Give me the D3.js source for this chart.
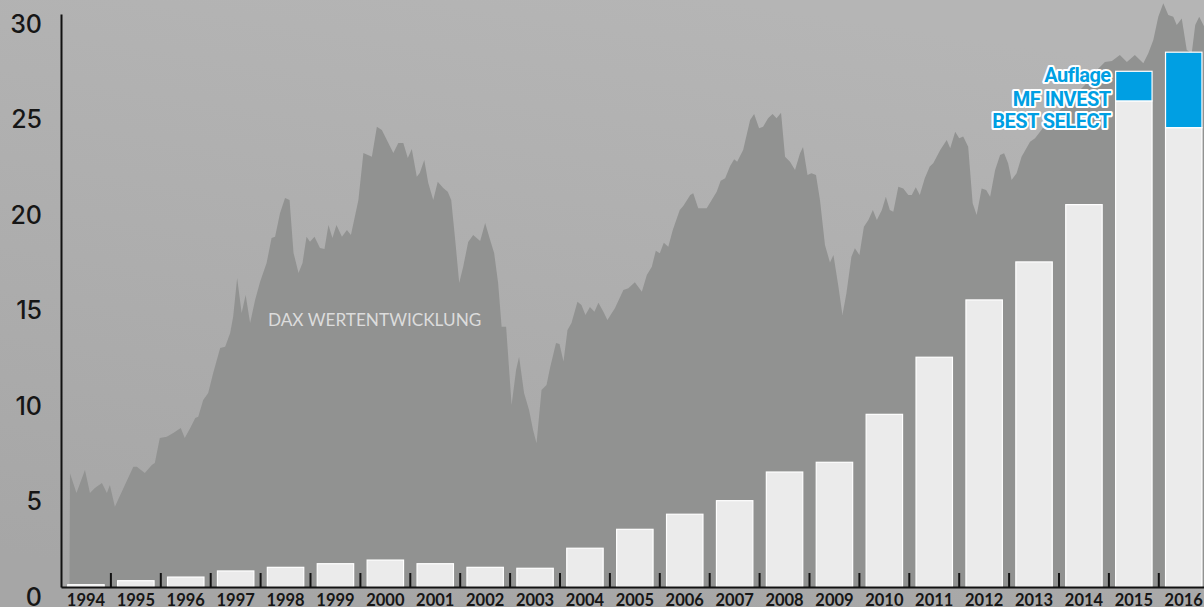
<!DOCTYPE html>
<html><head><meta charset="utf-8">
<script src="https://cdn.jsdelivr.net/npm/d3@7"></script>
<style>html,body{margin:0;padding:0;overflow:hidden;background:#adadad}</style>
</head><body><svg id="c" width="1204" height="607"></svg>
<script>
// ---------- data ----------
const years = [1994,1995,1996,1997,1998,1999,2000,2001,2002,2003,2004,2005,2006,2007,2008,2009,2010,2011,2012,2013,2014,2015,2016];
const baseValues = [0.12,0.33,0.52,0.84,1.03,1.22,1.41,1.22,1.03,0.98,2.03,3.02,3.81,4.52,6.02,6.53,9.04,12.03,15.03,17.02,20.02,25.45,24.05];
const mfValues   = [0,0,0,0,0,0,0,0,0,0,0,0,0,0,0,0,0,0,0,0,0,1.55,3.95];
const yTicks = [0,5,10,15,20,25,30];
const legendLines = ["Auflage","MF INVEST","BEST SELECT"];
const daxLabel = "DAX WERTENTWICKLUNG";
const daxDates = [1994.17,1994.18,1994.31,1994.48,1994.58,1994.68,1994.82,1994.92,1994.98,1995.08,1995.28,1995.45,1995.52,1995.68,1995.82,1995.88,1995.98,
1996.12,1996.25,1996.40,1996.48,1996.59,1996.69,1996.75,1996.85,1996.95,1997.05,1997.19,1997.29,1997.39,1997.45,1997.53,1997.62,1997.70,1997.79,1997.89,1997.99,
1998.12,1998.22,1998.29,1998.39,1998.49,1998.58,1998.66,1998.76,1998.84,1998.92,1998.99,1999.08,1999.19,1999.28,1999.36,1999.44,1999.52,1999.63,1999.73,1999.81,1999.96,
2000.06,2000.23,2000.33,2000.43,2000.56,2000.66,2000.76,2000.86,2000.95,2001.03,2001.13,2001.19,2001.28,2001.36,2001.46,2001.55,2001.66,2001.75,2001.82,2001.90,2001.98,
2002.06,2002.16,2002.26,2002.40,2002.50,2002.60,2002.68,2002.76,2002.83,2002.92,2003.03,2003.12,2003.18,2003.28,2003.38,2003.46,2003.53,2003.63,2003.73,2003.80,2003.92,2003.99,
2004.07,2004.15,2004.23,2004.35,2004.43,2004.51,2004.60,2004.69,2004.77,2004.87,2004.95,2005.10,2005.27,2005.37,2005.50,2005.64,2005.74,2005.84,2005.92,
2006.00,2006.08,2006.17,2006.26,2006.40,2006.47,2006.61,2006.67,2006.77,2006.94,2007.14,2007.22,2007.31,2007.41,2007.49,2007.55,2007.67,2007.81,2007.89,2007.99,
2008.07,2008.17,2008.26,2008.34,2008.43,2008.51,2008.61,2008.71,2008.81,2008.87,2008.96,2009.04,2009.13,2009.21,2009.31,2009.41,2009.48,2009.58,2009.66,2009.74,2009.84,2009.91,
2010.00,2010.09,2010.18,2010.27,2010.35,2010.45,2010.53,2010.61,2010.68,2010.78,2010.88,2010.98,2011.05,2011.13,2011.21,2011.31,2011.41,2011.48,2011.62,2011.75,2011.82,2011.92,
2012.00,2012.08,2012.18,2012.27,2012.35,2012.45,2012.54,2012.62,2012.72,2012.82,2012.90,2012.98,2013.05,2013.15,2013.25,2013.42,2013.52,2013.62,2013.75,2013.92,
2014.12,2014.32,2014.52,2014.72,2014.92,2015.06,2015.22,2015.36,2015.52,2015.69,2015.79,2015.89,2015.99,2016.09,2016.19,2016.29,2016.36,2016.46,2016.56,2016.66,2016.73,2016.81,2016.91];
const daxValues = [0,5.95,4.92,6.13,4.92,5.18,5.45,4.92,5.34,4.20,5.34,6.30,6.30,5.97,6.39,6.49,7.80,
7.87,8.06,8.32,7.80,8.32,8.85,8.92,9.79,10.16,11.20,12.51,12.58,13.30,14.15,16.18,14.35,15.29,13.82,15.03,15.98,
16.96,18.27,18.34,19.58,20.37,20.26,17.49,16.44,16.96,18.34,18.08,18.34,17.75,17.70,18.95,18.27,18.95,18.34,18.69,18.43,20.26,
22.72,22.53,24.10,23.93,23.25,22.72,23.25,23.25,22.46,22.93,21.48,21.68,22.36,21.15,20.26,21.22,20.89,20.70,20.26,18.17,15.92,
16.77,18.06,18.43,18.12,19.06,18.17,17.49,15.92,13.63,13.63,9.53,11.36,12.06,10.16,9.27,8.22,7.52,10.31,10.58,11.47,12.77,12.72,
11.80,13.46,13.82,14.94,14.76,14.24,14.66,14.41,14.88,14.41,13.98,14.59,15.55,15.64,15.95,15.46,16.34,16.77,17.61,
17.47,18.03,17.82,18.69,19.74,19.95,20.52,20.61,19.83,19.83,20.70,21.27,21.40,22.04,22.39,22.27,22.88,24.45,24.76,24.02,
24.10,24.54,24.76,24.54,24.83,22.53,22.27,21.83,22.71,23.04,21.57,21.66,21.57,20.26,17.91,16.99,17.38,15.72,14.24,15.38,17.29,17.73,
17.38,18.86,19.21,19.74,19.21,19.74,20.43,19.74,19.65,20.96,20.87,20.52,20.52,20.93,20.52,21.40,22.01,22.18,22.88,23.40,22.97,23.84,
23.49,23.58,23.05,20.09,19.48,20.87,20.79,20.43,21.83,22.62,22.71,22.18,21.31,21.66,22.53,23.31,23.49,23.84,24.28,24.71,
25.24,25.76,26.28,26.96,27.49,27.54,27.85,27.49,27.85,27.42,27.94,28.64,29.86,30.56,29.95,29.86,29.42,29.77,28.12,27.94,29.42,29.86,29.34];

(function(){
const W = 1204, H = 607;
const svg = d3.select("#c");
const mLeft = 61, yBase = 587, yTop = 14;
const step = 49.9;
const mRight = mLeft + years.length * step;

const x = d3.scaleBand().domain(years).range([mLeft, mRight]).paddingInner(0.27).paddingOuter(0.135);
const t = d3.scaleLinear().domain([years[0], years[years.length-1] + 1]).range([mLeft, mRight]);
const y = d3.scaleLinear().domain([0, 30]).range([yBase, yTop]);

const defs = svg.append("defs");
const g = defs.append("linearGradient").attr("id","bg").attr("x1","0.6").attr("y1","0").attr("x2","0.3").attr("y2","1");
g.append("stop").attr("offset","0").attr("stop-color","#b5b5b5");
g.append("stop").attr("offset","1").attr("stop-color","#a6a6a6");
svg.append("rect").attr("width",W).attr("height",H).attr("fill","url(#bg)");

// DAX area
const n = Math.min(daxDates.length, daxValues.length);
const dax = daxDates.slice(0,n).map((d,i)=>({d, v: daxValues[i]}));
svg.append("path").datum(dax)
  .attr("fill","#919291")
  .attr("d", d3.area().x(p=>t(p.d)).y0(y(0)).y1(p=>y(p.v)));

svg.append("text").text(daxLabel)
  .attr("x", 268).attr("y", 326)
  .attr("font-family","Lato, 'Open Sans', sans-serif").attr("font-size", 17.2)
  .attr("fill","#dcdcdc");

// Bars
const bars = years.map((yr,i)=>({yr, base: baseValues[i], mf: mfValues[i]}));
svg.append("g").selectAll("rect").data(bars).join("rect")
  .attr("x", d=>x(d.yr)).attr("width", x.bandwidth())
  .attr("y", d=>y(d.base)).attr("height", d=>y(0)-y(d.base))
  .attr("fill","#ebebeb").attr("stroke","#ffffff").attr("stroke-width",1.2);
svg.append("g").selectAll("rect").data(bars.filter(d=>d.mf>0)).join("rect")
  .attr("x", d=>x(d.yr)).attr("width", x.bandwidth())
  .attr("y", d=>y(d.base + d.mf)).attr("height", d=>y(d.base)-y(d.base+d.mf))
  .attr("fill","#009fe3").attr("stroke","#ffffff").attr("stroke-width",1.2);

// Y axis
const ya = svg.append("g").attr("transform",`translate(${mLeft},0)`)
  .call(d3.axisLeft(y).tickValues(yTicks).tickSize(0).tickSizeOuter(0).tickPadding(19));
ya.select(".domain").attr("stroke","#111").attr("stroke-width",2);
ya.selectAll("text").attr("y",10)
  .attr("font-family","Inter, Lato, sans-serif").attr("font-size",25).attr("font-weight",500).attr("fill","#161616");

// X axis
const xa = svg.append("g").attr("transform",`translate(0,${yBase})`)
  .call(d3.axisBottom(x).tickSize(0).tickSizeOuter(0).tickPadding(7.6));
xa.select(".domain").attr("stroke","#111").attr("stroke-width",2.2);
xa.selectAll("text")
  .attr("font-family","Lato, sans-serif").attr("font-size",16.5).attr("font-weight",700).attr("fill","#161616");

// boundary ticks between bars
const gap = (x.step() - x.bandwidth())/2;
svg.append("g").selectAll("line").data(years.slice(1)).join("line")
  .attr("x1", d=>x(d)-gap).attr("x2", d=>x(d)-gap)
  .attr("y1", yBase-14).attr("y2", yBase)
  .attr("stroke","#111").attr("stroke-width",2);

// Legend text
const lx = x(years[21]) - 5;
svg.append("g").selectAll("text").data(legendLines).join("text")
  .text(d=>d)
  .attr("x", lx).attr("y", (d,i)=>[82,106,128][i])
  .attr("text-anchor","end")
  .attr("font-family","Roboto, sans-serif").attr("font-weight",700).attr("font-size",20)
  .attr("letter-spacing",-0.5)
  .attr("fill","#009fe3").attr("stroke","#ffffff").attr("stroke-width",4)
  .attr("paint-order","stroke").attr("stroke-linejoin","round");
})();
</script></body></html>
